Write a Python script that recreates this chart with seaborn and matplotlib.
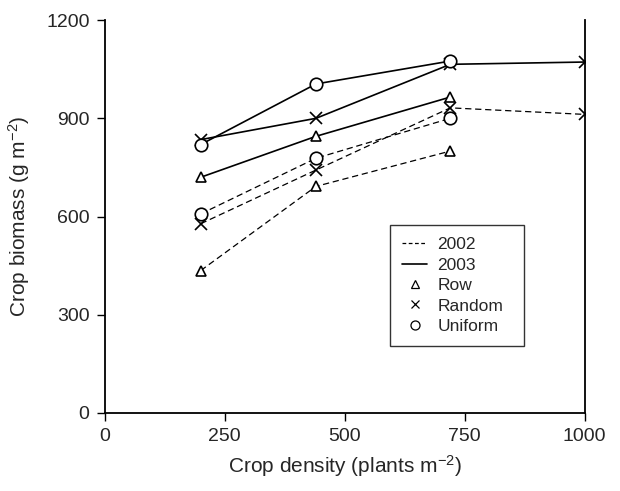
import matplotlib
matplotlib.use("Agg")
import matplotlib.pyplot as plt
from matplotlib.lines import Line2D
import seaborn as sns
import pandas as pd

# Data
density_row = [200, 440, 720]
density_random = [200, 440, 720, 1000]
density_uniform = [200, 440, 720]

biomass_2002_row = [435, 692, 800]
biomass_2002_random = [578, 742, 932, 912]
biomass_2002_uniform = [608, 778, 900]

biomass_2003_row = [720, 845, 965]
biomass_2003_random = [835, 900, 1065, 1072]
biomass_2003_uniform = [820, 1005, 1075]

x_ticks = [0, 250, 500, 750, 1000]
y_ticks = [0, 300, 600, 900, 1200]

sns.set_style("ticks")
plt.rcParams['font.family'] = ['Liberation Sans', 'DejaVu Sans']
plt.rcParams['mathtext.fontset'] = 'custom'
plt.rcParams['mathtext.rm'] = 'Liberation Sans'
plt.rcParams['mathtext.it'] = 'Liberation Sans:italic'
plt.rcParams['mathtext.default'] = 'regular'

fig = plt.figure(figsize=(6.2, 4.91), dpi=100)
ax = fig.add_axes([0.169, 0.159, 0.774, 0.800])

series = [
    ("2002", "Row", density_row, biomass_2002_row),
    ("2002", "Random", density_random, biomass_2002_random),
    ("2002", "Uniform", density_uniform, biomass_2002_uniform),
    ("2003", "Row", density_row, biomass_2003_row),
    ("2003", "Random", density_random, biomass_2003_random),
    ("2003", "Uniform", density_uniform, biomass_2003_uniform),
]
markers = {"Row": "^", "Random": "x", "Uniform": "o"}
msize = {"Row": 7, "Random": 8, "Uniform": 9}

for year, arr, xs, ys in series:
    df = pd.DataFrame({"density": xs, "biomass": ys})
    lw = 0.9 if year == "2002" else 1.2
    sns.lineplot(x="density", y="biomass", data=df, ax=ax, color="black",
                 linewidth=lw, marker=markers[arr], markersize=msize[arr],
                 markerfacecolor="white" if arr != "Random" else "black",
                 markeredgecolor="black", markeredgewidth=1.2, legend=False,
                 sort=False)
    if year == "2002":
        ax.lines[-1].set_dashes((5, 3))

ax.set_xlim(0, 1000)
ax.set_ylim(0, 1200)
ax.set_xticks(x_ticks)
ax.set_yticks(y_ticks)
ax.tick_params(labelsize=14, length=6, width=1, direction="out", color="black", pad=5)
ax.set_xlabel("Crop density (plants m$^{-2}$)", fontsize=15, labelpad=6)
ax.set_ylabel("Crop biomass (g m$^{-2}$)", fontsize=15, labelpad=10)
ax.spines["top"].set_visible(False)
ax.spines["right"].set_visible(True)
for s in ["left", "bottom", "right"]:
    ax.spines[s].set_linewidth(1.3)
    ax.spines[s].set_color("black")

handles = [
    Line2D([], [], color="black", linestyle=(0, (3, 2)), linewidth=0.9),
    Line2D([], [], color="black", linestyle="-", linewidth=1.2),
    Line2D([], [], color="black", linestyle="none", marker="^", markersize=5.5,
           markerfacecolor="white", markeredgewidth=0.9),
    Line2D([], [], color="black", linestyle="none", marker="x", markersize=5.5,
           markeredgewidth=0.9),
    Line2D([], [], color="black", linestyle="none", marker="o", markersize=6.5,
           markerfacecolor="white", markeredgewidth=0.9),
]
labels = ["2002", "2003", "Row", "Random", "Uniform"]
leg = ax.legend(handles, labels, loc="upper left",
                bbox_to_anchor=(0.594, 0.0, 0.279, 0.478), mode="expand",
                frameon=True, fancybox=False, edgecolor="black", fontsize=12.5,
                handlelength=1.45, handletextpad=0.6, labelspacing=0.3,
                borderpad=0.7, borderaxespad=0)
leg.get_frame().set_linewidth(1.0)

fig.savefig("out.png", dpi=100)
